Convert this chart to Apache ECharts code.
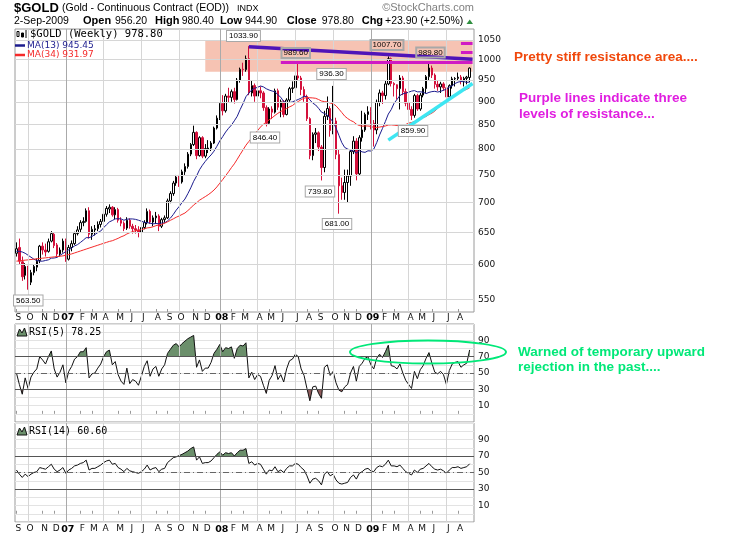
<!DOCTYPE html>
<html><head><meta charset="utf-8">
<script src="https://cdn.jsdelivr.net/npm/echarts/dist/echarts.min.js"></script>
<style>html,body{margin:0;padding:0;background:#fff}#c{width:752px;height:546px}</style>
</head><body><div id="c"></div>
<script>
// ---- weekly $GOLD bars (Sep 2006 - Sep 2009) ----
const candleOpen = [617,626,604,584,596,574,588,596,606,628,622,620,636,647,630,616,622,637,608,626,632,648,655,666,668,686,647,654,656,663,668,680,689,692,679,688,670,665,657,670,660,656,654,650,658,666,685,667,674,677,660,671,674,703,716,735,746,737,756,766,790,809,834,787,823,786,800,802,812,843,864,896,880,913,910,923,905,950,976,975,1002,920,937,913,925,920,887,853,884,877,925,888,900,872,904,930,932,960,955,928,912,863,787,830,833,804,764,868,885,838,858,789,730,718,736,748,795,816,752,823,839,872,878,853,839,899,920,914,941,1002,942,939,930,955,923,897,883,870,914,884,915,930,958,979,962,940,934,941,932,911,937,953,954,957,948,954,956.2];
const candleClose = [624,605,582,597,573,588,597,605,628,622,619,635,648,629,616,622,636,608,626,632,648,654,666,668,686,647,655,656,663,668,680,690,692,679,688,670,665,656,670,660,656,654,650,658,666,685,667,674,677,660,671,674,703,716,735,746,737,756,766,790,809,834,787,823,786,801,802,812,843,864,896,880,913,910,923,905,950,976,975,1002,920,937,913,925,920,887,853,884,877,925,888,900,872,904,930,932,960,955,928,912,863,787,830,833,804,764,868,885,838,858,789,730,718,736,748,795,816,752,823,839,872,878,853,839,899,920,914,941,1002,942,939,930,955,923,897,883,870,914,884,915,930,958,979,962,940,934,941,932,911,937,953,954,957,948,954,957,978.8];
const candleLow = [612,600,576,578,563.5,570,584,590,602,615,612,618,634,625,612,612,618,604,606,620,630,645,650,660,666,640,638,645,652,658,665,676,682,676,672,666,660,652,654,656,648,648,642,648,655,663,664,660,664,652,657,666,672,699,712,730,728,734,750,762,786,806,780,785,782,782,792,796,810,840,860,870,876,898,900,896,903,944,960,970,915,912,900,905,908,880,846.4,850,862,874,882,866,866,870,900,920,928,948,915,900,858,780,778,812,796,739.8,755,860,825,830,780,681,705,705,700,730,790,740,748,815,835,860,840,805,830,890,895,905,938,935,912,905,883,915,890,865,859.9,865,880,880,910,920,950,955,930,925,920,925,904,908,930,935,948,940,935,940,944.9];
const candleHigh = [634,640,612,602,598,592,600,609,630,634,632,640,652,650,633,626,640,640,630,637,651,660,670,675,690,692,660,662,668,672,684,694,697,694,692,691,675,668,675,673,664,662,660,662,670,690,688,678,684,680,674,678,707,720,739,750,750,760,772,794,812,848,836,826,826,810,818,816,846,870,899,915,918,932,928,932,955,980,992,1010,1033.9,948,942,934,935,924,892,888,890,930,930,905,904,908,934,947,965,989.6,960,935,916,866,834,843,836,808,880,912,890,936.3,865,800,745,760,760,800,826,822,828,880,876,890,888,860,905,928,925,950,1007.7,1005,945,940,962,960,930,900,890,918,918,920,934,962,989.8,985,966,948,946,945,935,940,958,957,968,962,958,960,980.4];
const ma13 = [620,620,619,617,614,611,608,606,605,605,606,607,609.5,
 609.8,610.7,613.8,616.8,619.5,622.4,625.1,628.4,630.4,633.8,
 637.5,641.5,641.4,643.4,646.5,649.6,652.1,657.6,662.5,667.2,
 669.5,672.2,672.5,672.2,669.9,671.7,672.1,672.1,671.4,670.0,
 668.3,666.5,665.9,665.0,663.9,664.5,664.1,665.2,665.5,668.8,
 673.5,679.7,687.1,693.2,700.1,706.3,715.8,726.2,738.2,748.0,
 759.7,768.3,775.8,782.5,788.4,795.8,805.6,816.4,825.2,834.6,
 842.4,849.2,858.3,868.1,882.7,896.1,911.5,919.8,927.0,930.8,
 933.0,936.1,934.1,929.7,926.7,924.5,922.6,915.8,910.1,900.1,
 898.8,898.3,899.8,902.5,905.2,908.3,912.8,911.2,904.3,897.0,
 892.8,885.4,877.1,874.3,870.8,863.6,855.8,843.0,827.8,812.8,
 803.1,800.1,797.4,796.1,792.1,796.6,794.4,793.4,796.5,796.1,
 799.9,812.9,828.5,842.2,857.0,872.9,882.6,897.0,905.2,914.2,
 918.1,919.5,921.8,924.2,925.4,922.6,922.7,921.8,918.5,921.3,
 923.1,923.8,922.2,923.6,926.3,928.5,933.6,936.6,942.0,945.2,
 946.6,946.3,944.6,945.45];
const ma34 = [605,605.5,606,606.5,607,607.5,608,608.5,609,609.5,610,610.5,611,611.5,612,612.5,613,614,615,616,617.5,619,620.5,622,623.5,625,626.5,628,629.5,631,632.5,634,635.5,
 636.6,638.5,640.4,642.8,644.6,647.4,649.5,651.3,652.7,653.4,
 654.4,655.8,657.3,657.8,659.1,660.9,662.1,663.1,665.0,667.3,
 669.8,672.3,675.0,677.1,679.7,682.1,686.3,690.8,696.0,699.7,
 704.2,707.4,710.6,713.9,717.8,722.3,728.0,734.8,741.4,748.6,
 755.9,763.8,771.1,780.0,789.3,798.4,807.7,815.2,822.9,829.9,
 837.6,845.0,851.2,855.6,860.6,864.8,870.0,874.5,878.7,881.8,
 885.2,888.7,891.6,896.7,900.6,904.8,908.0,909.8,909.1,908.7,
 907.8,905.1,901.7,900.4,899.6,897.1,895.7,891.0,883.8,876.2,
 868.4,863.3,859.1,856.3,851.2,848.4,846.9,847.5,847.3,846.6,
 844.1,844.4,845.0,846.2,847.3,849.4,849.7,849.1,848.4,849.2,
 849.5,850.5,853.3,854.5,856.9,859.2,863.7,865.5,867.6,871.8,
 874.9,879.3,885.3,891.9,897.6,902.4,906.6,910.6,916.6,920.5,
 923.7,926.1,928.4,931.97];
const rsi5 = [50,36,24,44,31,45,51,55,70,66,61,70,77,55,45,51,60,38,52,58,67,70,76,76,81,44,49,50,56,61,70,76,78,60,64,48,40,36,56,37,42,40,35,46,58,65,46,55,58,46,55,60,74,79,84,86,82,86,89,92,94,96,57,66,52,56,56,63,74,79,85,76,81,80,82,68,80,84,83,87,44,51,42,48,46,35,25,41,47,59,42,48,39,55,65,67,73,70,55,47,31,16,33,34,25,19,57,60,47,52,38,29,27,33,36,50,58,40,58,62,68,70,60,55,68,73,69,76,84,59,58,55,61,50,41,36,31,52,43,54,59,68,75,62,51,49,52,48,36,53,61,63,64,57,60,62,78.25];
const rsi14 = [53,48,44,48,45,48,50,51,56,55,54,57,60,54,51,53,56,49,53,55,58,59,61,62,65,53,55,55,57,59,62,64,65,60,61,56,54,51,55,52,51,50,49,51,54,59,53,55,56,51,54,55,62,65,68,69,70.5,72,74,76,79,81,65,69,61,62,62,64,68,72,75,71,74,73,74,70,74,77,77,79,61,63,59,61,60,54,48,53,52,57,51,53,50,55,58,58,61,60,56,53,46,37,42,43,40,35,48,51,46,48,41,37,36,37,38,44,47,42,49,51,54,55,52,51,56,58,57,60,65,58,58,57,59,55,51,49,47,53,50,54,55,58,61,57,54,53,54,52,49,53,56,56,57,55,56,57,60.6];
// axis ticks / labels
const monthTickIdx = [0,4,9,13,17,22,26,30,35,39,43,48,52,56,61,65,70,74,78,83,87,91,96,100,104,109,113,117,122,126,130,135,139,143,148,152];
const monthTickText = ['S','O','N','D','07','F','M','A','M','J','J','A','S','O','N','D','08','F','M','A','M','J','J','A','S','O','N','D','09','F','M','A','M','J','J','A'];
const quarterIdx = [4,17,30,43,56,70,83,96,109,122,135,148];
const yearIdx = [17,70,122];
const priceTicks = [550,600,650,700,750,800,850,900,950,1000,1050];
const rsiTicks = [10,30,50,70,90];
// price annotation labels (bar index, value)
const noteIdx = [80,97,109,128,142,86,105,111,136,4];
const noteVal = [1033.9,989.6,936.3,1007.7,989.8,846.4,739.8,681.0,859.9,563.5];
// drawn trend/resistance lines (bar index, price)
const purpleLine = [[80,1032.4],[157,1000.6]];
const magentaLine = [[91,993],[157,993]];
const magentaShort1 = [[152.7,1042],[157,1042]];
const magentaShort2 = [[152.7,1018],[157,1018]];
const cyanLine = [[128,818],[157,942]];
const resistanceZone = [[65,1047],[157,970]];

// ---------- build ----------
const NCAT = 158;
const cats = []; for (let i = 0; i < NCAT; i++) cats.push('w' + i);
const labelMap = {}; monthTickIdx.forEach((k, j) => labelMap[k] = monthTickText[j]);
const tickSet = new Set(monthTickIdx);
const ohlc = candleOpen.map((o, i) => [o, candleClose[i], candleLow[i], candleHigh[i]]);
const noteOffsets = [[-5.4,-10.2],[-2.5,-10.7],[-1.6,-11.9],[-1.3,-11.4],[1.5,-11.1],[-1.3,11.1],[-1.5,11],[-1.9,10.3],[1.5,10.9],[0.2,10.8]];
const inPink = [false,true,false,true,true,false,false,false,false,false];

const GRIDS = [
  { left: 15, top: 29, width: 459, height: 283 },
  { left: 15, top: 324, width: 459, height: 98 },
  { left: 15, top: 423, width: 459, height: 99 }
];
const RSI_MIN = -10, RSI_MAX = 110;
const GRID_C = '#d6d6d6', YEAR_C = '#aaaaaa';
const FF = 'DejaVu Sans';
const UP_FILL = '#6b8f6b', DN_FILL = '#8f5c5c', CLEAR = 'rgba(255,255,255,0)';

function xAxisFor(g) {
  return {
    type: 'category', gridIndex: g, data: cats, boundaryGap: true,
    axisLine: { show: false },
    axisTick: { show: true, inside: true, length: 3, alignWithLabel: true,
      interval: (i) => tickSet.has(i), lineStyle: { color: '#999' } },
    axisLabel: { show: g !== 1, interval: 0, fontSize: 9, fontFamily: FF, color: '#111',
      margin: g === 0 ? 1 : 2.5, padding: [0, 0, 0, 4],
      formatter: (v, i) => { const t = labelMap[i]; if (!t) return ''; return /\d/.test(t) ? '{y|' + t + '}' : t; },
      rich: { y: { fontWeight: 'bold', fontSize: 9.5, fontFamily: FF, color: '#000' } } },
    splitLine: { show: false }
  };
}
function rsiYAxis(g) {
  return { type: 'value', gridIndex: g, min: RSI_MIN, max: RSI_MAX, interval: 10, position: 'right',
    axisLine: { show: false }, axisTick: { show: false },
    axisLabel: { fontSize: 9, fontFamily: FF, color: '#111', margin: 4,
      formatter: v => rsiTicks.indexOf(v) >= 0 ? String(v) : '' },
    splitLine: { lineStyle: { color: '#e3e3e3', width: 1 } } };
}
function vGridSeries(xi, yi) {
  return { type: 'line', xAxisIndex: xi, yAxisIndex: yi, data: [], z: 1, silent: true,
    markLine: { silent: true, symbol: ['none', 'none'], animation: false, label: { show: false },
      data: quarterIdx.map(k => ({ xAxis: k, lineStyle: { color: yearIdx.indexOf(k) >= 0 ? YEAR_C : GRID_C, width: 1, type: 'solid' } })) } };
}
function rsiLevelSeries(xi, yi) {
  return { type: 'line', xAxisIndex: xi, yAxisIndex: yi, data: [], z: 1, silent: true,
    markLine: { silent: true, symbol: ['none', 'none'], animation: false, label: { show: false },
      data: [
        { yAxis: 70, lineStyle: { color: '#555', width: 1, type: 'solid' } },
        { yAxis: 30, lineStyle: { color: '#555', width: 1, type: 'solid' } },
        { yAxis: 50, lineStyle: { color: '#666', width: 1, type: [6, 3, 1, 3] } }
      ] } };
}
// fill colour that only shows beyond a threshold (gradient in panel space)
function bandFill(g, level, above, color) {
  const gr = GRIDS[g];
  const f = (RSI_MAX - level) / (RSI_MAX - RSI_MIN);
  const stops = above
    ? [{ offset: 0, color: color }, { offset: f, color: color }, { offset: Math.min(1, f + 0.0005), color: CLEAR }, { offset: 1, color: CLEAR }]
    : [{ offset: 0, color: CLEAR }, { offset: f, color: CLEAR }, { offset: Math.min(1, f + 0.0005), color: color }, { offset: 1, color: color }];
  return new echarts.graphic.LinearGradient(0, gr.top, 0, gr.top + gr.height, stops, true);
}
function rsiArea(g, data, above) {
  return { type: 'line', xAxisIndex: g, yAxisIndex: g, data: data, symbol: 'none', showSymbol: false,
    lineStyle: { width: 0, opacity: 0 },
    areaStyle: { origin: above ? 'start' : 'end', opacity: 1,
      color: above ? bandFill(g, 70, true, UP_FILL) : bandFill(g, 30, false, DN_FILL) },
    z: 2, silent: true };
}
function rsiLine(g, data) {
  return { type: 'line', xAxisIndex: g, yAxisIndex: g, data: data, symbol: 'none', showSymbol: false,
    lineStyle: { color: '#111', width: 1 }, z: 3, silent: true };
}
function segLine(pts, color, width) {
  return [{ coord: pts[0], lineStyle: { color: color, width: width, type: 'solid' } }, { coord: pts[1] }];
}

const series = [
  { type: 'line', xAxisIndex: 0, yAxisIndex: 0, data: [], z: 1, silent: true,
    markLine: { silent: true, symbol: ['none', 'none'], animation: false,
      lineStyle: { color: GRID_C, width: 1, type: 'solid' },
      label: { show: true, position: 'end', distance: 4, color: '#111', fontSize: 9, fontFamily: FF, formatter: p => String(p.value) },
      data: priceTicks.map(v => ({ yAxis: v })) } },
  vGridSeries(0, 0),
  { type: 'line', xAxisIndex: 0, yAxisIndex: 0, data: [], z: 2, silent: true,
    markArea: { silent: true, itemStyle: { color: '#f6c3b3' },
      data: [[{ coord: resistanceZone[0] }, { coord: resistanceZone[1] }]] } },
  { type: 'candlestick', xAxisIndex: 0, yAxisIndex: 0, data: ohlc, barWidth: 2, z: 3, silent: true,
    itemStyle: { color: '#ffffff', color0: '#d4113c', borderColor: '#000000', borderColor0: '#d4113c', borderWidth: 1 },
    markPoint: { silent: true, symbol: 'rect', symbolSize: 1, itemStyle: { color: 'rgba(0,0,0,0)' },
      data: noteIdx.map((k, j) => ({ name: noteVal[j].toFixed(2), coord: [k, noteVal[j]],
        label: { show: true, position: 'inside', offset: noteOffsets[j], formatter: p => p.name,
          fontSize: 8, fontFamily: 'Liberation Sans', color: '#000', lineHeight: 9,
          borderColor: '#a8a8a8', borderWidth: 1, padding: [1, 2, 0, 2],
          backgroundColor: inPink[j] ? 'rgba(255,255,255,0)' : '#ffffff' } })) } },
  { type: 'line', xAxisIndex: 0, yAxisIndex: 0, data: ma13, symbol: 'none', showSymbol: false, z: 4, silent: true,
    lineStyle: { color: '#1c1c8e', width: 1 } },
  { type: 'line', xAxisIndex: 0, yAxisIndex: 0, data: ma34, symbol: 'none', showSymbol: false, z: 4, silent: true,
    lineStyle: { color: '#f52a2a', width: 1 } },
  { type: 'line', xAxisIndex: 0, yAxisIndex: 0, data: [], z: 6, silent: true,
    markLine: { silent: true, symbol: ['none', 'none'], animation: false, label: { show: false },
      data: [ segLine(magentaLine, '#cf1ac4', 3), segLine(purpleLine, '#4f14b8', 3.5),
              segLine(magentaShort1, '#cf1ac4', 3), segLine(magentaShort2, '#cf1ac4', 3),
              segLine(cyanLine, '#3de6f2', 3.5) ] } },
  vGridSeries(1, 1),
  rsiLevelSeries(1, 1),
  rsiArea(1, rsi5, true),
  rsiArea(1, rsi5, false),
  rsiLine(1, rsi5),
  vGridSeries(2, 2),
  rsiLevelSeries(2, 2),
  rsiArea(2, rsi14, true),
  rsiArea(2, rsi14, false),
  rsiLine(2, rsi14)
];

function txt(x, y, text, o) {
  o = o || {};
  return { type: 'text', x: x, y: y, z: 100, silent: true,
    style: { text: text, fill: o.fill || '#000', fontSize: o.size || 11, fontWeight: o.bold ? 'bold' : 'normal',
      fontFamily: o.family || 'Liberation Sans', align: o.align || 'left', verticalAlign: 'middle' } };
}
const ANN = 13.5;
const graphic = [
  txt(14, 8, '$GOLD', { size: 13, bold: true }),
  txt(62, 8, '(Gold - Continuous Contract (EOD))', { size: 10.5 }),
  txt(237, 8.5, 'INDX', { size: 9 }),
  txt(474, 8, '\u00A9StockCharts.com', { size: 11, fill: '#808080', align: 'right' }),
  txt(14, 21, '2-Sep-2009', { size: 10.5 }),
  txt(83, 21, 'Open', { size: 11, bold: true }), txt(115, 21, '956.20', { size: 10.5 }),
  txt(155, 21, 'High', { size: 11, bold: true }), txt(181.7, 21, '980.40', { size: 10.5 }),
  txt(220, 21, 'Low', { size: 11, bold: true }), txt(245, 21, '944.90', { size: 10.5 }),
  txt(286.7, 21, 'Close', { size: 11, bold: true }), txt(321.7, 21, '978.80', { size: 10.5 }),
  txt(361.7, 21, 'Chg', { size: 11, bold: true }), txt(385, 21, '+23.90 (+2.50%)', { size: 10.5 }),
  { type: 'polygon', z: 100, silent: true, shape: { points: [[466.5, 24], [473, 24], [469.75, 19.5]] }, style: { fill: '#2f8f3f' } },
  { type: 'rect', z: 100, silent: true, shape: { x: 17, y: 31.5, width: 2, height: 5 }, style: { fill: '#fff', stroke: '#000', lineWidth: 1 } },
  { type: 'rect', z: 100, silent: true, shape: { x: 21.5, y: 33, width: 2, height: 4 }, style: { fill: '#000', stroke: '#000', lineWidth: 1 } },
  { type: 'line', z: 100, silent: true, shape: { x1: 26, y1: 30, x2: 26, y2: 38 }, style: { stroke: '#000', lineWidth: 1 } },
  txt(30, 34, '$GOLD (Weekly) 978.80', { size: 10.5, family: 'DejaVu Sans Mono' }),
  { type: 'line', z: 100, silent: true, shape: { x1: 15, y1: 45.5, x2: 25, y2: 45.5 }, style: { stroke: '#1c1c8e', lineWidth: 2.5 } },
  txt(27, 45.5, 'MA(13) 945.45', { size: 9, family: FF, fill: '#1c1c8e' }),
  { type: 'line', z: 100, silent: true, shape: { x1: 15, y1: 55, x2: 25, y2: 55 }, style: { stroke: '#f52a2a', lineWidth: 2.5 } },
  txt(27, 55, 'MA(34) 931.97', { size: 9, family: FF, fill: '#f52a2a' }),
  { type: 'polygon', z: 100, silent: true, shape: { points: [[17, 336], [19.5, 329], [22, 333], [24.5, 328], [27, 336]] }, style: { fill: UP_FILL, stroke: '#111', lineWidth: 1 } },
  txt(29, 332, 'RSI(5) 78.25', { size: 10, family: 'DejaVu Sans Mono' }),
  { type: 'polygon', z: 100, silent: true, shape: { points: [[17, 435], [19.5, 428], [22, 432], [24.5, 427], [27, 435]] }, style: { fill: UP_FILL, stroke: '#111', lineWidth: 1 } },
  txt(29, 431, 'RSI(14) 60.60', { size: 10, family: 'DejaVu Sans Mono' }),
  txt(514, 57, 'Pretty stiff resistance area....', { size: ANN, bold: true, fill: '#f0480c' }),
  txt(519, 98, 'Purple lines indicate three', { size: ANN, bold: true, fill: '#e01ee0' }),
  txt(519, 114, 'levels of resistance...', { size: ANN, bold: true, fill: '#e01ee0' }),
  { type: 'ellipse', z: 100, silent: true, shape: { cx: 428, cy: 352, rx: 78, ry: 11.5 }, style: { fill: 'none', stroke: '#00e878', lineWidth: 2 } },
  txt(518, 352, 'Warned of temporary upward', { size: ANN, bold: true, fill: '#00e878' }),
  txt(518, 367.5, 'rejection in the past....', { size: ANN, bold: true, fill: '#00e878' })
];

const chart = echarts.init(document.getElementById('c'), null, { renderer: 'canvas' });
chart.setOption({
  animation: false,
  backgroundColor: '#ffffff',
  grid: GRIDS.map(g => Object.assign({ show: true, borderColor: '#9a9a9a', borderWidth: 1, backgroundColor: '#fff' }, g)),
  xAxis: [xAxisFor(0), xAxisFor(1), xAxisFor(2)],
  yAxis: [
    { type: 'log', gridIndex: 0, logBase: 10, min: 533, max: 1079, position: 'right',
      axisLabel: { show: false }, splitLine: { show: false }, axisLine: { show: false }, axisTick: { show: false } },
    rsiYAxis(1), rsiYAxis(2)
  ],
  series: series,
  graphic: graphic
});
</script></body></html>
